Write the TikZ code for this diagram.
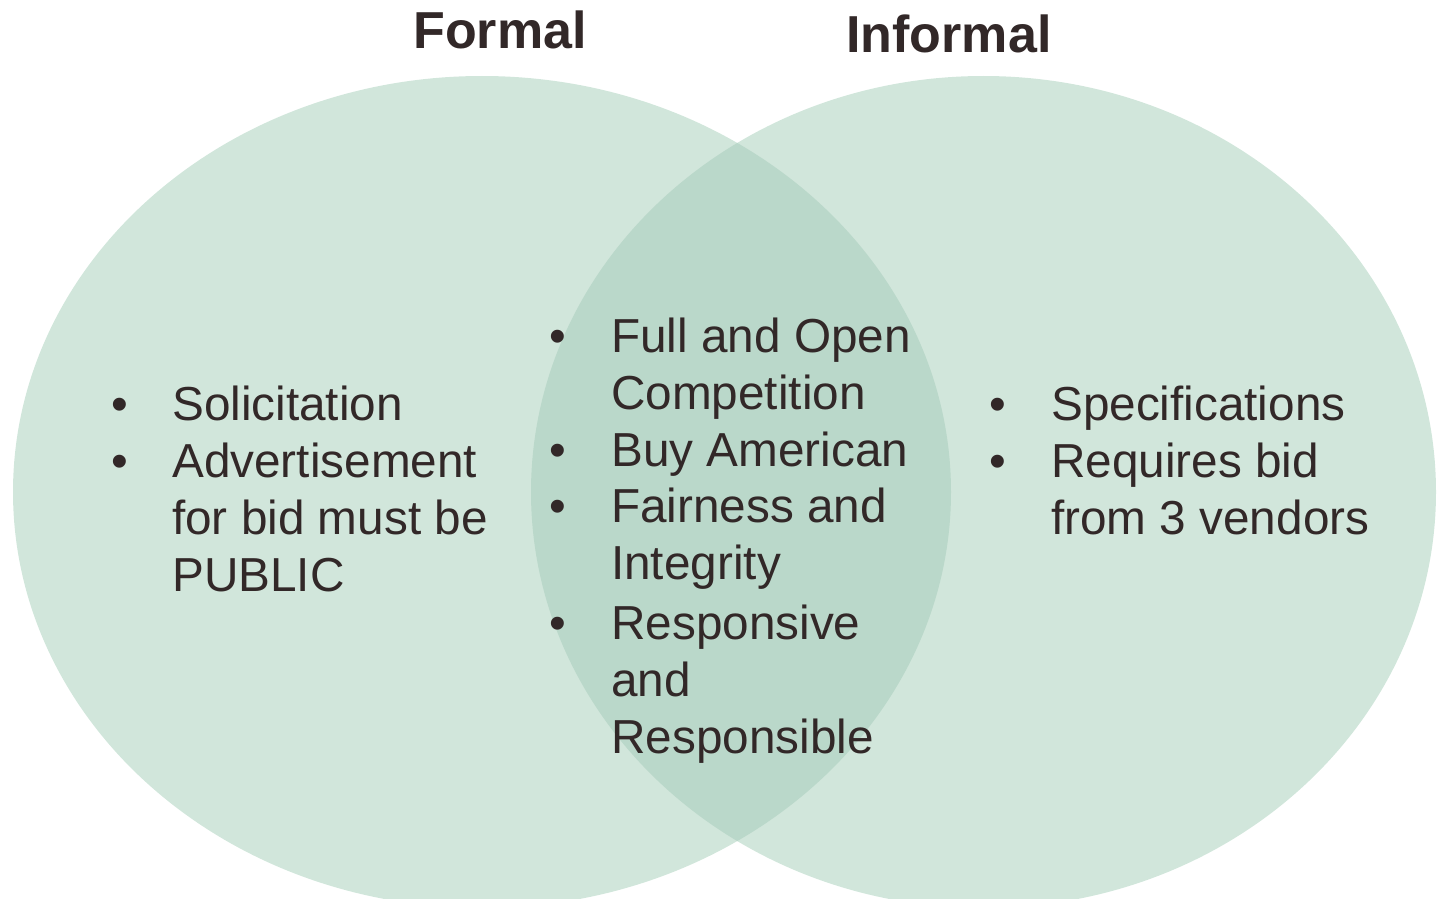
\documentclass[tikz,border=0pt]{standalone}
\usepackage{fontspec}
\setmainfont{Liberation Sans}
\definecolor{venn_light}{RGB}{209, 230, 219}
\definecolor{venn_dark}{RGB}{186, 216, 202}
\definecolor{venn_text}{RGB}{50, 40, 40}
\tikzstyle{ttl}=[anchor=base,inner sep=0pt,text=venn_text,
  font=\fontsize{52}{62}\selectfont\bfseries]
\tikzstyle{bul}=[anchor=base,inner sep=0pt,text=venn_text,
  font=\fontsize{47.7}{57.4}\selectfont]
% multi-line items sit on the baseline of their last line
\tikzstyle{itm}=[anchor=base west,inner sep=0pt,text=venn_text,align=left,
  font=\fontsize{47.7}{57.4}\selectfont]

\begin{document}
\begin{tikzpicture}[x=1pt, y=-1pt]
    \useasboundingbox (0, 0) rectangle (1441, 899);
    \clip (0, 0) rectangle (1441, 899);
    % the two sets
    \fill [venn_light] (482, 492) ellipse [x radius=469pt, y radius=416pt];
    \fill [venn_light] (983.5, 492) ellipse [x radius=452.5pt, y radius=416pt];
    \begin{scope}
        \clip (482, 492) ellipse [x radius=469pt, y radius=416pt];
        \fill [venn_dark] (983.5, 492) ellipse [x radius=452.5pt, y radius=416pt];
    \end{scope}
    % titles
    \node [style=ttl] (0) at (500, 49) {Formal};
    \node [style=ttl] (1) at (949, 53) {Informal};
    % formal only
    \node [style=bul] (2) at (120, 420) {•};
    \node [style=itm] (3) at (172, 420) {Solicitation};
    \node [style=bul] (4) at (120, 477) {•};
    \node [style=itm] (5) at (172, 591.8) {Advertisement\\for bid must be\\PUBLIC};
    % both
    \node [style=bul] (6) at (558, 352) {•};
    \node [style=itm] (7) at (611, 409.4) {Full and Open\\Competition};
    \node [style=bul] (8) at (558, 466) {•};
    \node [style=itm] (9) at (611, 466) {Buy American};
    \node [style=bul] (10) at (558, 522) {•};
    \node [style=itm] (11) at (611, 579.4) {Fairness and\\Integrity};
    \node [style=bul] (12) at (558, 639) {•};
    \node [style=itm] (13) at (611, 753.8) {Responsive\\and\\Responsible};
    % informal only
    \node [style=bul] (14) at (998, 420) {•};
    \node [style=itm] (15) at (1051, 420) {Specifications};
    \node [style=bul] (16) at (998, 477) {•};
    \node [style=itm] (17) at (1051, 534.4) {Requires bid\\from 3 vendors};
\end{tikzpicture}
\end{document}
